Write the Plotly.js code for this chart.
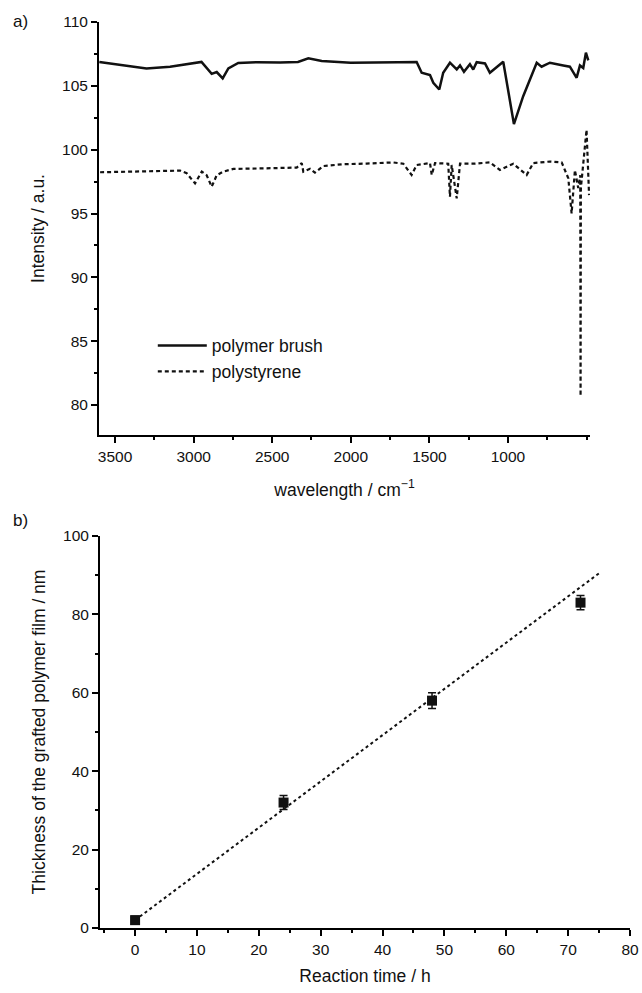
<!DOCTYPE html>
<html>
<head>
<meta charset="utf-8">
<script src="https://cdn.plot.ly/plotly-3.0.1.min.js"></script>
<style>html,body{margin:0;padding:0;background:#fff}#chart{width:642px;height:993px}</style>
</head>
<body>
<div id="chart"></div>
<script>
// Panel a) IR spectra
const brushWavenumber = [3600, 3450, 3300, 3150, 2950, 2885, 2853, 2815, 2779, 2716, 2600, 2450, 2336, 2270, 2185, 2000, 1846, 1700, 1581, 1549, 1496, 1475, 1437, 1412, 1369, 1326, 1305, 1280, 1242, 1221, 1199, 1146, 1115, 1030, 962, 903, 860, 817, 786, 733, 648, 606, 563, 542, 521, 504, 489];
const brushIntensity = [106.87, 106.6, 106.36, 106.5, 106.87, 105.94, 106.08, 105.58, 106.36, 106.79, 106.85, 106.82, 106.87, 107.15, 106.94, 106.8, 106.8, 106.85, 106.87, 106.02, 105.84, 105.24, 104.71, 106.02, 106.81, 106.28, 106.6, 106.1, 106.7, 106.28, 106.85, 106.75, 106.02, 106.89, 102.0, 104.19, 105.5, 106.81, 106.5, 106.81, 106.6, 106.5, 105.63, 106.6, 106.4, 107.6, 107.0];

const psWavenumber = [3595, 3300, 3086, 3044, 2991, 2948, 2917, 2885, 2853, 2811, 2747, 2500, 2344, 2312, 2302, 2259, 2228, 2175, 2048, 1899, 1730, 1666, 1613, 1581, 1496, 1485, 1464, 1380, 1369, 1358, 1326, 1305, 1221, 1115, 1051, 966, 881, 839, 733, 658, 616, 595, 574, 553, 540, 538, 536, 500, 484];
const psIntensity = [98.23, 98.3, 98.36, 98.15, 97.36, 98.28, 98.0, 97.10, 98.0, 98.28, 98.49, 98.55, 98.6, 98.94, 98.28, 98.5, 98.2, 98.72, 98.86, 98.91, 99.0, 98.9, 98.02, 98.8, 98.95, 98.02, 98.95, 98.9, 96.31, 98.8, 96.18, 98.9, 98.9, 99.0, 98.41, 98.9, 98.02, 98.95, 99.07, 99.0, 97.76, 95.0, 98.4, 97.0, 98.0, 80.7, 97.0, 101.56, 96.44];

const seriesNames = ['polymer brush', 'polystyrene'];
const xTickValsA = [3500, 3000, 2500, 2000, 1500, 1000];

// Panel b) film thickness vs reaction time
const reactionTime = [0, 24, 48, 72];
const thickness = [2, 32, 58, 83];
const thicknessErr = [1, 1.8, 2, 1.8];
const fitTime = [0, 75];
const fitThickness = [2, 90.5];

const FONT = 'Liberation Sans, Arial, Helvetica, sans-serif';
const TITLE_SIZE = 17.5;
const axisCommon = {
  showline: true, linecolor: '#000', linewidth: 2,
  ticks: 'outside', ticklen: 6, tickwidth: 2, tickcolor: '#000',
  showgrid: false, zeroline: false, mirror: false,
  tickfont: {family: FONT, size: 15.5, color: '#111'},
  automargin: false
};
const minorCommon = {ticks: 'outside', ticklen: 3, tickwidth: 2, tickcolor: '#000', tick0: 0};

const traces = [
  {x: brushWavenumber, y: brushIntensity, type: 'scatter', mode: 'lines', name: seriesNames[0],
   line: {color: '#111', width: 2.5}, xaxis: 'x', yaxis: 'y'},
  {x: psWavenumber, y: psIntensity, type: 'scatter', mode: 'lines', name: seriesNames[1],
   line: {color: '#111', width: 2.2, dash: '4px,3px'}, xaxis: 'x', yaxis: 'y'},
  {x: fitTime, y: fitThickness, type: 'scatter', mode: 'lines', showlegend: false,
   line: {color: '#111', width: 2, dash: 'dot'}, xaxis: 'x2', yaxis: 'y2', cliponaxis: false},
  {x: reactionTime, y: thickness, type: 'scatter', mode: 'markers', showlegend: false,
   marker: {symbol: 'square', size: 10, color: '#111'},
   error_y: {type: 'data', array: thicknessErr, visible: true, color: '#111', thickness: 1.5, width: 4},
   xaxis: 'x2', yaxis: 'y2', cliponaxis: false}
];

const layout = {
  width: 642, height: 993,
  margin: {l: 0, r: 0, t: 0, b: 0},
  paper_bgcolor: '#fff', plot_bgcolor: '#fff',
  font: {family: FONT, color: '#111'},
  showlegend: true,
  legend: {x: 0.238, y: 0.670, xanchor: 'left', yanchor: 'top', bgcolor: 'rgba(0,0,0,0)',
           itemwidth: 49, tracegroupgap: 0,
           font: {family: FONT, size: 17.5, color: '#111'}},
  xaxis: Object.assign({}, axisCommon, {
    domain: [99/642, 590/642], anchor: 'y', range: [3602, 478],
    tickvals: xTickValsA, minor: Object.assign({dtick: 250}, minorCommon),
    title: {text: 'wavelength / cm<sup>−1</sup>', font: {family: FONT, size: TITLE_SIZE, color: '#111'}, standoff: 20}
  }),
  yaxis: Object.assign({}, axisCommon, {
    domain: [1 - 435/993, 1 - 22/993], anchor: 'x', range: [77.65, 110],
    dtick: 5, tick0: 0, minor: Object.assign({dtick: 2.5}, minorCommon),
    title: {text: 'Intensity / a.u.', font: {family: FONT, size: TITLE_SIZE, color: '#111'}, standoff: 13}
  }),
  xaxis2: Object.assign({}, axisCommon, {
    domain: [100/642, 630/642], anchor: 'y2', range: [-5.67, 80],
    dtick: 10, tick0: 0, minor: Object.assign({dtick: 5}, minorCommon),
    title: {text: 'Reaction time / h', font: {family: FONT, size: TITLE_SIZE, color: '#111'}, standoff: 13}
  }),
  yaxis2: Object.assign({}, axisCommon, {
    domain: [1 - 928/993, 1 - 536/993], anchor: 'x2', range: [0, 100],
    dtick: 20, tick0: 0, minor: Object.assign({dtick: 10}, minorCommon),
    title: {text: 'Thickness of the grafted polymer film / nm', font: {family: FONT, size: TITLE_SIZE, color: '#111'}, standoff: 13}
  }),
  annotations: [
    {text: 'a)', xref: 'paper', yref: 'paper', x: 11/642, y: 1 - 22/993, xanchor: 'left', yanchor: 'middle', showarrow: false, font: {family: FONT, size: 17, color: '#111'}},
    {text: 'b)', xref: 'paper', yref: 'paper', x: 11/642, y: 1 - 520/993, xanchor: 'left', yanchor: 'middle', showarrow: false, font: {family: FONT, size: 17, color: '#111'}}
  ]
};

Plotly.newPlot('chart', traces, layout, {displayModeBar: false, staticPlot: true});
</script>
</body>
</html>
